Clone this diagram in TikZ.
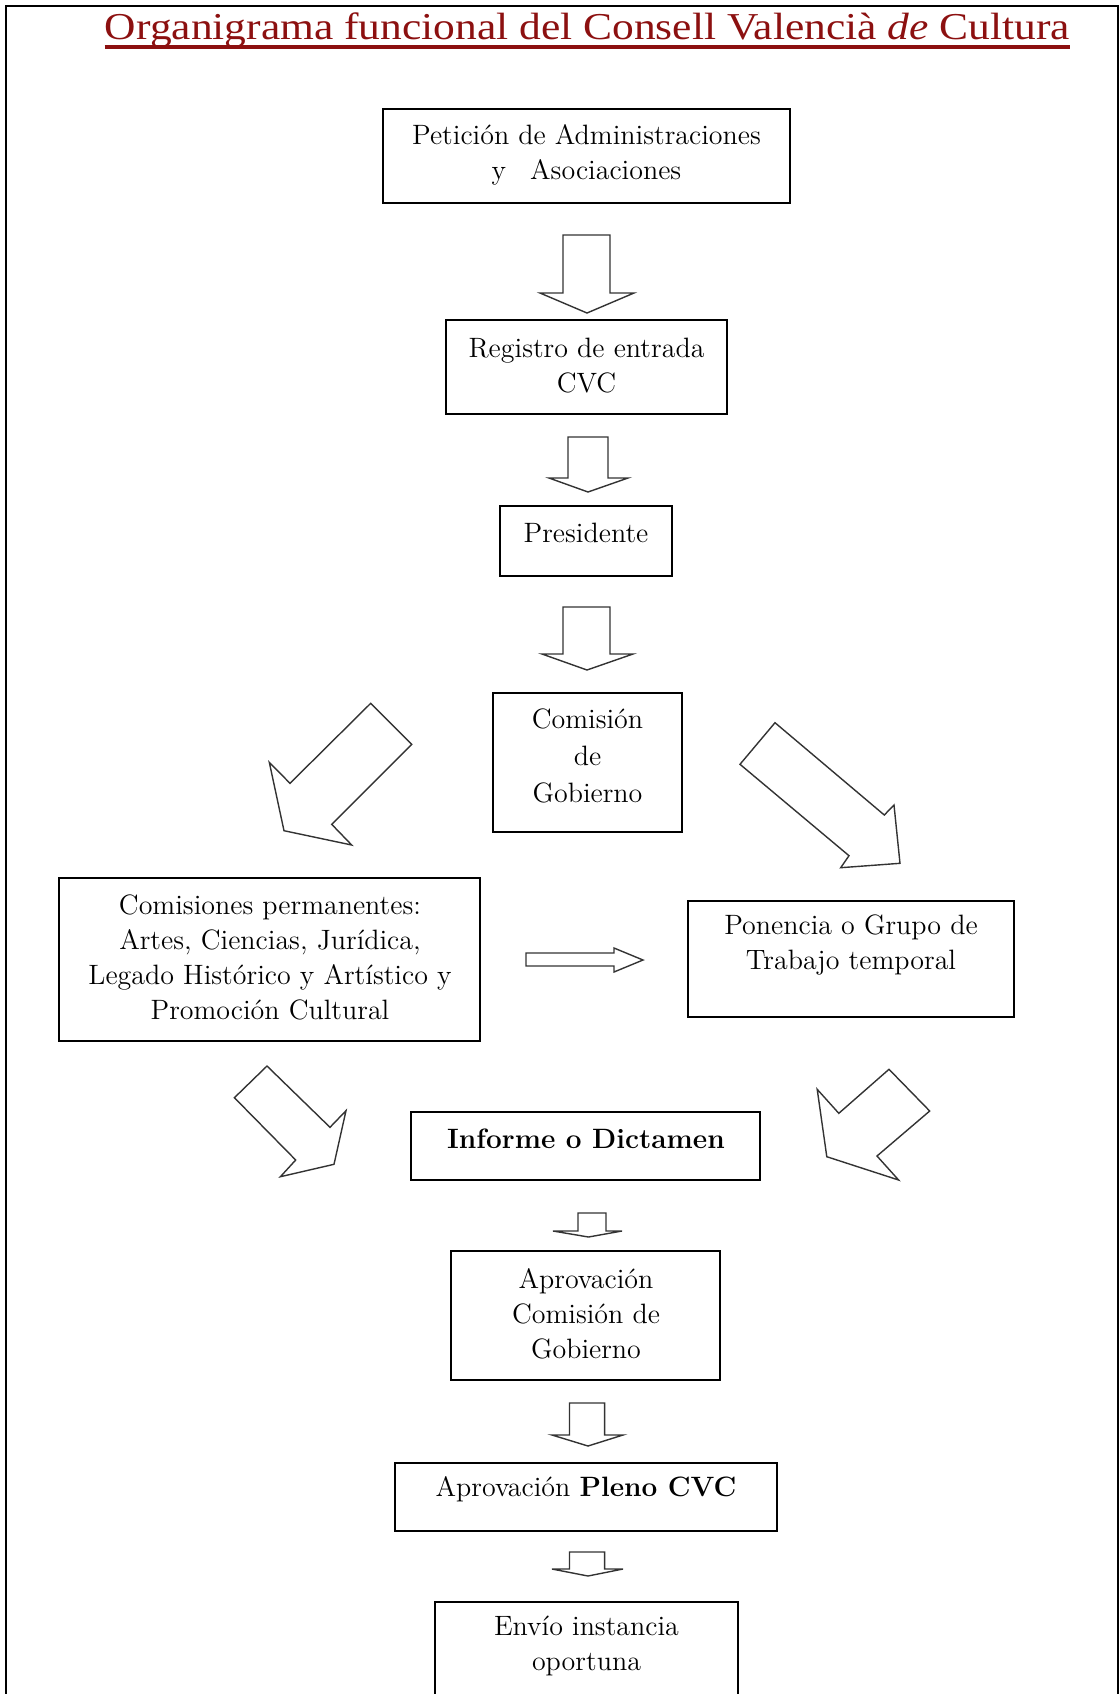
\documentclass[tikz,border=0pt]{standalone}
\usepackage{fontspec}
\usepackage{graphicx}
\newfontfamily\titlefont{Liberation Serif}
\usetikzlibrary{calc}
\definecolor{titlered}{RGB}{140,16,16}
\begin{document}
\begin{tikzpicture}[x=0.5pt,y=-0.5pt,
  box/.style={draw=black, line width=1pt, inner sep=0pt, fill=white},
  txt/.style={align=center, inner sep=0pt, font=\fontsize{14}{17.5}\selectfont},
  blk/.style={draw=black!80, line width=0.7pt, fill=white, line join=miter},
  frame/.style={draw=black, line width=1pt},
  ttl/.style={inner sep=0pt, text=titlered, font=\titlefont\fontsize{19}{22}\selectfont},
  ul/.style={draw=titlered, line width=1.6pt}]
\useasboundingbox (0,0) rectangle (1120,1694);
\begin{scope}
\clip (0,0) rectangle (1120,1694);
% frame
\draw[frame] (6,1720) -- (6,6) -- (1118,6) -- (1118,1720);
% title
\node[ttl, anchor=base] (title) at (587.5,39) {\resizebox{482.5pt}{\height}{Organigrama funcional del Consell Valencià \textit{de} Cultura}};
\draw[ul] ($(title.base west)+(0,8)$) -- ($(title.base east)+(0,8)$);

% boxes
\node[box, minimum width=203.5pt, minimum height=47pt] (pet) at (586.5,156) {};
\node[txt] (petT) at (586.5,155) {Petición de Administraciones\\y\hspace{12pt}Asociaciones};

\node[box, minimum width=140.5pt, minimum height=47pt] (reg) at (586.5,367) {};
\node[txt] (regT) at (586.5,366) {Registro de entrada\\CVC};

\node[box, minimum width=86pt, minimum height=35pt] (pres) at (586,541) {};
\node[txt] (presT) at (586,533) {Presidente};

\node[box, minimum width=94.5pt, minimum height=69.5pt] (com) at (587.5,762.5) {};
\node[txt] (comT) at (587.5,756) {Comisión\\[1pt]de\\[1pt]Gobierno};

\node[box, minimum width=210.5pt, minimum height=81.5pt] (perm) at (269.5,959.5) {};
\node[txt] (permT) at (270,957) {Comisiones permanentes:\\Artes, Ciencias, Jurídica,\\Legado Histórico y Artístico y\\Promoción Cultural};

\node[box, minimum width=163pt, minimum height=58pt] (pon) at (851,959) {};
\node[txt] (ponT) at (851,945) {Ponencia o Grupo de\\Trabajo temporal};

\node[box, minimum width=174.5pt, minimum height=34pt] (inf) at (585.5,1146) {};
\node[txt] (infT) at (586,1139) {\textbf{Informe o Dictamen}};

\node[box, minimum width=134.5pt, minimum height=64.5pt] (apc) at (585.5,1315.5) {};
\node[txt] (apcT) at (586,1313.5) {Aprovación\\Comisión de\\Gobierno};

\node[box, minimum width=191pt, minimum height=34pt] (ple) at (586,1497) {};
\node[txt] (pleT) at (586,1489) {Aprovación \textbf{Pleno CVC}};

\node[box, minimum width=151.5pt, minimum height=59pt] (env) at (586.5,1661) {};
\node[txt] (envT) at (586.5,1645.5) {Envío instancia\\oportuna};

% vertical block arrows
\draw[blk] (563,235) -- (610,235) -- (610,293) -- (634,293) -- (587,313) -- (540,293) -- (563,293) -- cycle;
\draw[blk] (568,437) -- (608,437) -- (608,478) -- (628,478) -- (588,492) -- (549,478) -- (568,478) -- cycle;
\draw[blk] (563,607) -- (610,607) -- (610,654) -- (633,654) -- (587,670) -- (542,654) -- (563,654) -- cycle;
\draw[blk] (578,1213) -- (606,1213) -- (606,1231) -- (622,1231) -- (588.5,1237) -- (553,1231) -- (578,1231) -- cycle;
\draw[blk] (569.5,1403) -- (604.6,1403) -- (604.6,1435) -- (623,1435) -- (588,1446) -- (552,1435) -- (569.5,1435) -- cycle;
\draw[blk] (569.5,1552) -- (604.6,1552) -- (604.6,1569) -- (623,1569) -- (588,1576) -- (552,1569) -- (569.5,1569) -- cycle;

% diagonal block arrows
\draw[blk] (370.7,703.3) -- (411.7,744.3) -- (331.7,824.3) -- (351.7,845) -- (284,830.7) -- (269.3,762.3) -- (290,783.3) -- cycle;
\draw[blk] (775,722.7) -- (740,764.3) -- (849,855.7) -- (840.7,867.7) -- (900,863.3) -- (894,805) -- (884.3,815) -- cycle;
\draw[blk] (267,1066) -- (234.4,1097.7) -- (295.7,1160) -- (280.4,1176.7) -- (334,1164.3) -- (346,1110.7) -- (330,1127.3) -- cycle;
\draw[blk] (889,1069.3) -- (929.7,1111) -- (877,1156) -- (898.6,1180) -- (826.8,1156.7) -- (817.2,1089.3) -- (838.8,1113.3) -- cycle;

% horizontal block arrow
\draw[blk] (526,953) -- (614,953) -- (614,948) -- (643,960) -- (614,972) -- (614,966) -- (526,966) -- cycle;
\end{scope}
\end{tikzpicture}
\end{document}
